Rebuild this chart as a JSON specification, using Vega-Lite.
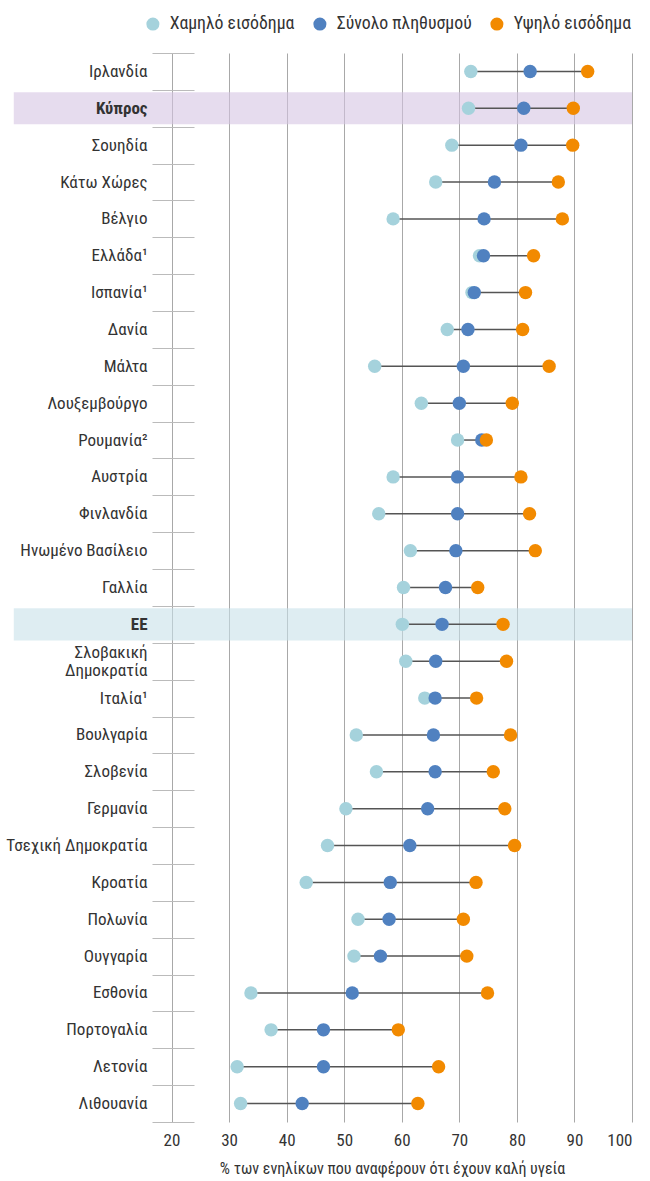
{
  "$schema": "https://vega.github.io/schema/vega-lite/v6.json",
  "autosize": {"type": "none"},
  "padding": {"left": 152, "top": 53, "right": 18, "bottom": 59},
  "width": 480,
  "height": 1069,
  "config": {
    "font": "'Roboto Condensed', 'DejaVu Sans Condensed', 'Liberation Sans Narrow', Roboto",
    "view": {"stroke": null},
    "axis": {"labelFont": "'Roboto Condensed', 'DejaVu Sans Condensed', 'Liberation Sans Narrow', Roboto", "titleFont": "'Roboto Condensed', 'DejaVu Sans Condensed', 'Liberation Sans Narrow', Roboto"},
    "legend": {"labelFont": "'Roboto Condensed', 'DejaVu Sans Condensed', 'Liberation Sans Narrow', Roboto"}
  },
  "data": {
    "values": [
      {"country": "Ιρλανδία", "low": 72.0, "total": 82.3, "high": 92.3},
      {"country": "Κύπρος", "low": 71.6, "total": 81.2, "high": 89.8},
      {"country": "Σουηδία", "low": 68.7, "total": 80.7, "high": 89.7},
      {"country": "Κάτω Χώρες", "low": 65.9, "total": 76.1, "high": 87.2},
      {"country": "Βέλγιο", "low": 58.5, "total": 74.3, "high": 87.9},
      {"country": "Ελλάδα¹", "low": 73.5, "total": 74.2, "high": 82.9},
      {"country": "Ισπανία¹", "low": 72.2, "total": 72.6, "high": 81.5},
      {"country": "Δανία", "low": 67.9, "total": 71.5, "high": 81.0},
      {"country": "Μάλτα", "low": 55.3, "total": 70.7, "high": 85.6},
      {"country": "Λουξεμβούργο", "low": 63.4, "total": 70.0, "high": 79.2},
      {"country": "Ρουμανία²", "low": 69.7, "total": 73.9, "high": 74.7},
      {"country": "Αυστρία", "low": 58.5, "total": 69.7, "high": 80.7},
      {"country": "Φινλανδία", "low": 56.0, "total": 69.7, "high": 82.2},
      {"country": "Ηνωμένο Βασίλειο", "low": 61.5, "total": 69.4, "high": 83.2},
      {"country": "Γαλλία", "low": 60.3, "total": 67.6, "high": 73.2},
      {"country": "ΕΕ", "low": 60.1, "total": 67.0, "high": 77.6},
      {"country": "Σλοβακική Δημοκρατία", "low": 60.7, "total": 65.9, "high": 78.2},
      {"country": "Ιταλία¹", "low": 64.0, "total": 65.8, "high": 73.0},
      {"country": "Βουλγαρία", "low": 52.1, "total": 65.5, "high": 78.9},
      {"country": "Σλοβενία", "low": 55.6, "total": 65.8, "high": 75.9},
      {"country": "Γερμανία", "low": 50.3, "total": 64.5, "high": 77.9},
      {"country": "Τσεχική Δημοκρατία", "low": 47.1, "total": 61.4, "high": 79.6},
      {"country": "Κροατία", "low": 43.4, "total": 58.0, "high": 72.9},
      {"country": "Πολωνία", "low": 52.4, "total": 57.8, "high": 70.7},
      {"country": "Ουγγαρία", "low": 51.7, "total": 56.3, "high": 71.3},
      {"country": "Εσθονία", "low": 33.8, "total": 51.4, "high": 74.9},
      {"country": "Πορτογαλία", "low": 37.3, "total": 46.4, "high": 59.4},
      {"country": "Λετονία", "low": 31.4, "total": 46.4, "high": 66.4},
      {"country": "Λιθουανία", "low": 32.0, "total": 42.7, "high": 62.8}
    ]
  },
  "encoding": {
    "y": {
      "field": "country",
      "type": "nominal",
      "sort": ["Ιρλανδία", "Κύπρος", "Σουηδία", "Κάτω Χώρες", "Βέλγιο", "Ελλάδα¹", "Ισπανία¹", "Δανία", "Μάλτα", "Λουξεμβούργο", "Ρουμανία²", "Αυστρία", "Φινλανδία", "Ηνωμένο Βασίλειο", "Γαλλία", "ΕΕ", "Σλοβακική Δημοκρατία", "Ιταλία¹", "Βουλγαρία", "Σλοβενία", "Γερμανία", "Τσεχική Δημοκρατία", "Κροατία", "Πολωνία", "Ουγγαρία", "Εσθονία", "Πορτογαλία", "Λετονία", "Λιθουανία"],
      "scale": {"paddingInner": 0, "paddingOuter": 0},
      "axis": {
        "title": null,
        "domain": false,
        "grid": false,
        "ticks": true,
        "tickBand": "extent",
        "tickSize": 42,
        "offset": -42,
        "tickColor": "#bbbbbb",
        "tickWidth": 1,
        "labelPadding": 5,
        "labelFontSize": 17,
        "labelColor": "#333333",
        "labelLineHeight": 18,
        "labelOffset": {"condition": {"test": "datum.value === 'Σλοβακική Δημοκρατία'", "value": -9}, "value": 0},
        "labelFontWeight": {"condition": {"test": "datum.value === 'Κύπρος' || datum.value === 'ΕΕ'", "value": "bold"}, "value": "normal"},
        "labelExpr": "datum.value === 'Σλοβακική Δημοκρατία' ? ['Σλοβακική', 'Δημοκρατία'] : datum.value",
        "zindex": 1
      }
    }
  },
  "layer": [
    {
      "transform": [{"filter": "datum.country === 'Κύπρος' || datum.country === 'ΕΕ'"}],
      "mark": {"type": "bar", "height": {"band": 0.87}, "opacity": 0.6},
      "encoding": {
        "x": {"datum": -7.4, "type": "quantitative"},
        "x2": {"datum": 100},
        "fill": {"field": "country", "type": "nominal", "scale": {"domain": ["Κύπρος", "ΕΕ"], "range": ["#d5c5e3", "#c8e1e9"]}, "legend": null}
      }
    },
    {
      "mark": {"type": "rule", "color": "#555555", "strokeWidth": 1.5},
      "encoding": {
        "x": {
          "field": "low",
          "type": "quantitative",
          "scale": {"domain": [16.61, 100], "nice": false, "zero": false},
          "axis": {
            "values": [20, 30, 40, 50, 60, 70, 80, 90, 100],
            "grid": true,
            "gridColor": "#a8a8a8",
            "gridWidth": 1,
            "domain": false,
            "ticks": false,
            "labelFontSize": 17,
            "labelColor": "#333333",
            "labelPadding": 10,
            "title": "% των ενηλίκων που αναφέρουν ότι έχουν καλή υγεία",
            "titleFontSize": 16,
            "titleFontWeight": "normal",
            "titleColor": "#333333",
            "titlePadding": 12
          }
        },
        "x2": {"field": "high"}
      }
    },
    {
      "transform": [{"fold": ["low", "total", "high"], "as": ["series", "value"]}],
      "mark": {"type": "circle", "size": 180, "opacity": 1},
      "encoding": {
        "x": {"field": "value", "type": "quantitative"},
        "color": {
          "field": "series",
          "type": "nominal",
          "scale": {"domain": ["low", "total", "high"], "range": ["#a5d2dc", "#5081c0", "#f28a00"]},
          "legend": {
            "title": null,
            "orient": "none",
            "direction": "horizontal",
            "legendX": -8,
            "legendY": -38,
            "symbolType": "circle",
            "symbolSize": 170,
            "symbolOpacity": 1,
            "labelFontSize": 17.8,
            "labelColor": "#333333",
            "labelOffset": 8,
            "columnPadding": 16,
            "labelExpr": "datum.value === 'low' ? 'Χαμηλό εισόδημα' : datum.value === 'total' ? 'Σύνολο πληθυσμού' : 'Υψηλό εισόδημα'"
          }
        }
      }
    }
  ]
}
